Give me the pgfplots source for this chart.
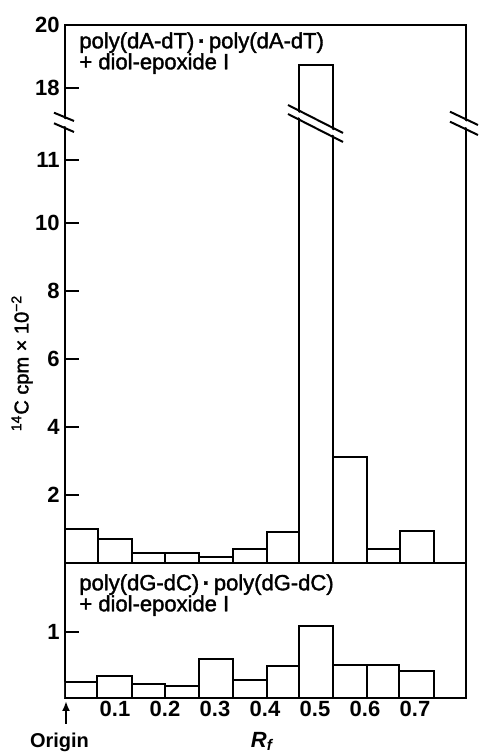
\documentclass[border=0pt]{standalone}
\usepackage{pgfplots}
\pgfplotsset{compat=1.18}
\usepackage{fontspec}
\setmainfont{Liberation Sans}
\newfontfamily\annfont[FakeBold=1.6]{Liberation Sans}
\usetikzlibrary{arrows.meta}
\begin{document}
\begin{tikzpicture}[x=0.5pt,y=0.5pt]
\path[use as bounding box] (0,0) rectangle (479,755);
% upper panel
\begin{axis}[
  at={(32.5pt,95.85pt)}, anchor=south west,
  scale only axis, width=200.5pt, height=269.15pt,
  xmin=0, xmax=0.802, ymin=0, ymax=20,
  y coord trafo/.code={\pgfmathparse{(#1<=10) ? (#1*34) : ((#1<=11) ? (340+(#1-10)*63.3) : ((#1<=18) ? (403.3+(#1-11)*10.24) : (475+(#1-18)*31.65)))}},
  xtick=\empty,
  ytick={2,4,6,8,10,11,18,20},
  yticklabels={2,4,6,8,10,11,18,20},
  ytick pos=left, tick align=inside, major tick length=7pt,
  ytick style={line width=1pt, black},
  yticklabel style={font=\bfseries\fontsize{11}{12}\selectfont, inner sep=2.5pt},
  axis line style={line width=1.1pt},
  clip=false,
]
\addplot[ybar interval, draw=black, fill=white, line width=1pt] coordinates {
 (0,1.01) (0.0667,0.71) (0.1333,0.31) (0.2,0.30) (0.2687,0.19) (0.3367,0.41)
 (0.4033,0.93) (0.468,18.74) (0.5367,3.13) (0.6033,0.41) (0.67,0.96) (0.738,0.96)};
\end{axis}
% lower panel
\begin{axis}[
  at={(32.5pt,28.35pt)}, anchor=south west,
  scale only axis, width=200.5pt, height=67.5pt,
  xmin=0, xmax=0.802, ymin=0, ymax=2.027,
  xtick={0.1,0.2,0.3,0.4,0.5,0.6,0.7},
  xticklabels={0.1,0.2,0.3,0.4,0.5,0.6,0.7},
  xtick style={draw=none},
  xticklabel style={font=\bfseries\fontsize{11}{12}\selectfont, inner sep=1pt},
  ytick={1}, yticklabels={1},
  ytick pos=left, tick align=inside, major tick length=7pt,
  ytick style={line width=1pt, black},
  yticklabel style={font=\bfseries\fontsize{11}{12}\selectfont, inner sep=2.5pt},
  axis line style={line width=1.1pt},
]
\addplot[ybar interval, draw=black, fill=white, line width=1pt] coordinates {
 (0,0.25) (0.0647,0.33) (0.1333,0.21) (0.2,0.18) (0.2687,0.59) (0.3367,0.28)
 (0.4033,0.49) (0.468,1.09) (0.5367,0.50) (0.6033,0.50) (0.6687,0.41) (0.738,0.41)};
\end{axis}
% break marks
\fill[white] (54,755-114.5) -- (74,755-122.8) -- (74,755-130.2) -- (54,755-121.5) -- cycle;
\draw[line width=1pt] (54,755-112.7) -- (74,755-121);
\draw[line width=1pt] (54,755-123.3) -- (74,755-132);
\fill[white] (288,755-107) -- (343,755-135) -- (343,755-140) -- (288,755-112) -- cycle;
\draw[line width=1pt] (288,755-105) -- (343,755-133);
\draw[line width=1pt] (288,755-114) -- (343,755-142);
\fill[white] (450,755-113.5) -- (478,755-127) -- (478,755-133) -- (450,755-119.8) -- cycle;
\draw[line width=1pt] (450,755-111.7) -- (478,755-125);
\draw[line width=1pt] (450,755-121.7) -- (478,755-135);
% annotations
\node[anchor=base west, inner sep=0pt, font=\annfont\fontsize{11}{12}\selectfont] at (79,755-48.3) {poly(dA-dT)\,{\bfseries·}\,poly(dA-dT)};
\node[anchor=base west, inner sep=0pt, font=\annfont\fontsize{11}{12}\selectfont] at (79,755-69.3) {+ diol-epoxide I};
\node[anchor=base west, inner sep=0pt, font=\annfont\fontsize{11}{12}\selectfont] at (79,755-590.3) {poly(dG-dC)\,{\bfseries·}\,poly(dG-dC)};
\node[anchor=base west, inner sep=0pt, font=\annfont\fontsize{11}{12}\selectfont] at (79,755-611.3) {+ diol-epoxide I};
% y label
\node[rotate=90, inner sep=0pt, font=\annfont\fontsize{10}{11}\selectfont] at (22,755-363) {\textsuperscript{14}C cpm × 10\textsuperscript{−2}};
% origin arrow and labels
\draw[line width=1.3pt, -{Latex[length=5pt,width=4pt]}] (66,755-724) -- (66,755-701);
\node[anchor=base, inner sep=0pt, font=\bfseries\fontsize{10}{11}\selectfont] at (59.5,8) {Origin};
\node[anchor=base west, inner sep=0pt, font=\bfseries\itshape\fontsize{11}{12}\selectfont] at (250.5,8) {R\textsubscript{f}};
\end{tikzpicture}
\end{document}
